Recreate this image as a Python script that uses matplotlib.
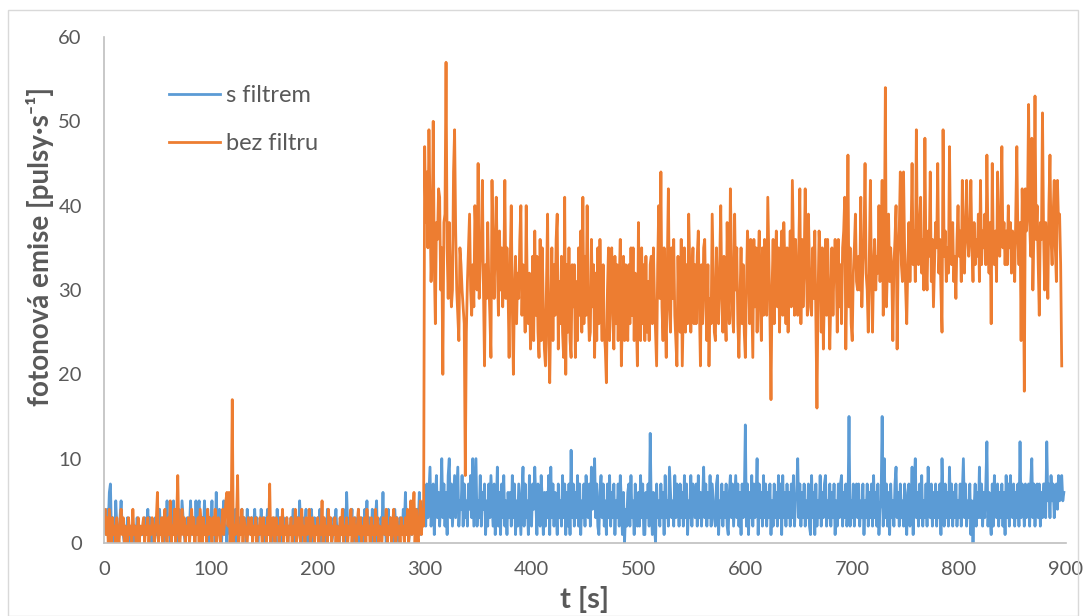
import numpy as np
import matplotlib
matplotlib.use('Agg')
import matplotlib.pyplot as plt
from matplotlib.patches import Rectangle

plt.rcParams['font.family'] = ['Lato', 'DejaVu Sans']

# pulsy za sekundu, jedna hodnota na sekundu (t = 0, 1, 2, ...)
s_filtrem = [
    3, 2, 1, 4, 2, 6, 7, 1, 3, 2, 0, 5, 2, 0, 1, 3, 5, 2, 1, 0,
    2, 1, 3, 0, 1, 2, 1, 1, 0, 2, 1, 3, 1, 0, 2, 1, 1, 2, 3, 1,
    2, 4, 1, 3, 0, 2, 1, 0, 3, 1, 2, 0, 4, 1, 2, 3, 0, 1, 2, 5,
    1, 2, 0, 3, 2, 5, 1, 3, 2, 0, 4, 2, 1, 5, 3, 1, 0, 2, 3, 1,
    2, 5, 1, 3, 2, 0, 5, 1, 4, 5, 2, 0, 3, 1, 5, 2, 1, 4, 0, 3,
    2, 5, 1, 3, 0, 6, 2, 1, 4, 2, 0, 3, 5, 1, 2, 0, 3, 4, 1, 2,
    3, 1, 2, 4, 0, 2, 1, 3, 2, 4, 1, 3, 2, 0, 4, 1, 3, 2, 3, 1,
    2, 4, 1, 3, 0, 2, 1, 4, 2, 1, 3, 0, 2, 4, 1, 3, 2, 0, 1, 3,
    2, 0, 4, 1, 3, 2, 1, 0, 3, 2, 1, 3, 0, 2, 1, 3, 2, 4, 1, 0,
    2, 3, 1, 5, 2, 0, 3, 1, 2, 4, 0, 2, 3, 1, 4, 2, 0, 3, 1, 2,
    3, 1, 4, 0, 2, 3, 1, 2, 0, 4, 1, 3, 2, 0, 1, 3, 2, 4, 1, 2,
    0, 3, 1, 2, 4, 1, 0, 6, 2, 1, 3, 2, 4, 0, 1, 3, 2, 1, 4, 0,
    2, 3, 1, 0, 4, 2, 5, 1, 3, 2, 0, 4, 1, 2, 3, 5, 0, 2, 1, 3,
    2, 6, 1, 3, 0, 2, 4, 1, 3, 2, 0, 1, 4, 2, 3, 1, 0, 3, 2, 1,
    4, 2, 6, 1, 3, 0, 2, 4, 1, 5, 2, 3, 0, 4, 2, 6, 1, 3, 2, 5,
    5, 2, 7, 3, 6, 9, 2, 4, 7, 1, 5, 8, 3, 6, 2, 5, 10, 3, 7, 2,
    6, 1, 8, 10, 3, 7, 2, 5, 8, 3, 6, 9, 2, 5, 4, 8, 2, 7, 3, 5,
    2, 7, 4, 8, 3, 10, 2, 6, 10, 2, 5, 3, 8, 2, 6, 4, 7, 1, 5, 2,
    7, 3, 8, 5, 2, 7, 1, 4, 9, 2, 6, 1, 7, 3, 8, 2, 5, 1, 6, 3,
    6, 2, 8, 3, 7, 1, 5, 2, 7, 4, 1, 6, 9, 2, 7, 3, 5, 1, 8, 3,
    2, 7, 4, 9, 5, 1, 7, 3, 2, 8, 5, 1, 6, 2, 6, 3, 8, 1, 9, 3,
    7, 2, 6, 4, 1, 7, 3, 5, 2, 8, 3, 7, 1, 6, 2, 7, 1, 11, 3, 7,
    2, 6, 3, 8, 2, 7, 1, 5, 3, 7, 2, 8, 5, 3, 7, 2, 9, 4, 6, 10,
    3, 7, 2, 1, 6, 8, 3, 7, 2, 5, 1, 7, 3, 8, 2, 6, 3, 7, 1, 5,
    3, 7, 2, 8, 5, 1, 6, 0, 4, 2, 6, 7, 2, 8, 3, 5, 1, 7, 3, 2,
    6, 2, 8, 3, 7, 1, 1, 6, 3, 7, 2, 13, 4, 1, 6, 2, 0, 7, 3, 5,
    2, 7, 3, 6, 1, 8, 3, 5, 2, 9, 6, 3, 5, 2, 8, 3, 7, 5, 2, 7,
    3, 6, 2, 8, 3, 7, 1, 5, 3, 8, 2, 7, 5, 3, 7, 2, 8, 3, 6, 2,
    5, 9, 3, 7, 2, 6, 3, 8, 2, 7, 5, 3, 2, 7, 8, 1, 5, 3, 7, 2,
    6, 3, 7, 2, 1, 6, 8, 3, 7, 2, 5, 8, 3, 7, 2, 6, 1, 7, 3, 5,
    14, 2, 7, 1, 6, 3, 8, 2, 7, 3, 5, 10, 1, 7, 3, 6, 2, 8, 3, 7,
    2, 6, 3, 7, 1, 5, 2, 7, 3, 6, 2, 8, 3, 7, 1, 8, 3, 6, 2, 7,
    3, 6, 2, 7, 3, 8, 2, 5, 6, 10, 3, 7, 2, 6, 3, 7, 2, 5, 3, 7,
    2, 1, 8, 3, 6, 1, 7, 2, 5, 3, 8, 2, 6, 3, 7, 8, 2, 5, 3, 7,
    2, 6, 3, 7, 1, 5, 2, 7, 3, 7, 8, 2, 6, 3, 7, 2, 4, 15, 2, 5,
    3, 7, 2, 6, 7, 3, 7, 2, 5, 3, 7, 1, 5, 3, 7, 2, 6, 3, 7, 2,
    8, 3, 6, 2, 7, 1, 4, 5, 15, 2, 10, 3, 7, 2, 6, 1, 7, 3, 5, 2,
    7, 9, 3, 6, 2, 7, 3, 5, 2, 7, 3, 1, 6, 7, 2, 4, 9, 1, 7, 10,
    3, 6, 2, 7, 3, 8, 2, 5, 3, 7, 2, 9, 5, 3, 7, 2, 6, 3, 7, 2,
    6, 3, 7, 1, 10, 5, 2, 7, 3, 6, 2, 9, 3, 7, 2, 6, 3, 7, 2, 5,
    3, 7, 2, 6, 10, 3, 7, 2, 5, 3, 7, 1, 5, 0, 4, 7, 2, 6, 3, 9,
    3, 7, 2, 6, 3, 7, 12, 2, 6, 3, 1, 7, 2, 8, 5, 3, 7, 2, 6, 3,
    7, 2, 6, 1, 8, 3, 7, 2, 8, 5, 3, 7, 2, 6, 3, 7, 2, 12, 3, 7,
    5, 2, 7, 3, 6, 7, 2, 7, 10, 3, 7, 2, 6, 7, 3, 7, 2, 6, 3, 7,
    7, 3, 12, 5, 7, 3, 8, 5, 7, 3, 6, 7, 4, 8, 5, 7, 8, 5, 6,
]

bez_filtru = [
    2, 4, 1, 3, 0, 4, 2, 0, 3, 1, 2, 0, 3, 1, 0, 2, 4, 1, 3, 0,
    2, 1, 0, 3, 1, 2, 0, 4, 1, 2, 0, 1, 3, 0, 2, 1, 2, 3, 0, 2,
    1, 3, 0, 2, 1, 3, 2, 0, 1, 3, 6, 0, 2, 1, 3, 0, 2, 4, 1, 0,
    3, 1, 5, 0, 2, 1, 4, 0, 3, 8, 1, 0, 2, 4, 1, 3, 0, 2, 1, 3,
    0, 2, 4, 1, 3, 0, 2, 1, 3, 0, 4, 2, 0, 3, 1, 2, 0, 4, 1, 3,
    2, 0, 3, 1, 4, 0, 2, 3, 1, 0, 2, 4, 1, 3, 5, 6, 2, 6, 0, 3,
    17, 0, 2, 1, 3, 8, 0, 2, 1, 4, 0, 3, 2, 1, 0, 3, 2, 1, 3, 0,
    2, 1, 3, 0, 2, 1, 3, 2, 0, 3, 1, 2, 0, 3, 1, 7, 0, 2, 3, 1,
    0, 3, 1, 2, 0, 3, 1, 4, 0, 2, 1, 3, 0, 2, 1, 3, 0, 2, 1, 4,
    0, 2, 3, 1, 0, 4, 1, 2, 0, 3, 1, 2, 4, 0, 1, 3, 2, 0, 2, 1,
    3, 0, 2, 1, 5, 0, 3, 1, 2, 0, 4, 1, 3, 0, 2, 1, 3, 0, 2, 1,
    0, 3, 1, 4, 0, 2, 1, 3, 0, 2, 1, 4, 0, 2, 3, 1, 0, 2, 4, 1,
    3, 0, 2, 1, 3, 0, 4, 1, 2, 0, 3, 1, 2, 0, 4, 1, 3, 0, 2, 1,
    0, 3, 2, 1, 4, 0, 2, 1, 3, 0, 2, 4, 1, 0, 3, 1, 2, 0, 3, 1,
    2, 0, 3, 1, 4, 0, 2, 5, 1, 3, 6, 0, 4, 1, 0, 3, 5, 1, 4, 2,
    47, 38, 44, 35, 49, 40, 31, 36, 50, 33, 26, 38, 36, 42, 41, 30, 35, 20, 38, 39,
    57, 35, 29, 38, 32, 28, 30, 44, 49, 37, 30, 27, 24, 35, 33, 30, 28, 26, 8, 25,
    31, 35, 39, 30, 27, 33, 28, 40, 36, 30, 45, 29, 33, 36, 43, 30, 21, 33, 29, 38,
    31, 27, 22, 43, 34, 29, 36, 41, 33, 27, 37, 30, 35, 28, 32, 43, 29, 35, 30, 22,
    33, 40, 28, 20, 30, 34, 26, 32, 29, 36, 40, 27, 33, 31, 25, 40, 30, 26, 32, 23,
    26, 34, 24, 37, 27, 34, 25, 22, 36, 24, 35, 28, 23, 21, 31, 39, 24, 19, 28, 35,
    24, 33, 27, 36, 39, 23, 31, 26, 34, 25, 22, 41, 20, 33, 25, 35, 24, 22, 33, 28,
    33, 22, 31, 24, 35, 27, 37, 25, 41, 26, 34, 27, 40, 29, 24, 25, 36, 28, 33, 22,
    32, 24, 35, 26, 36, 29, 24, 33, 25, 23, 19, 30, 35, 24, 33, 35, 27, 23, 34, 26,
    33, 24, 31, 36, 21, 27, 34, 24, 33, 28, 24, 33, 26, 35, 27, 35, 24, 32, 27, 21,
    38, 27, 24, 35, 26, 33, 24, 34, 25, 31, 24, 33, 34, 26, 35, 29, 25, 21, 33, 40,
    29, 44, 28, 24, 35, 27, 22, 33, 42, 28, 25, 35, 29, 36, 27, 24, 21, 34, 27, 25,
    36, 21, 28, 35, 25, 33, 26, 39, 33, 25, 31, 35, 26, 33, 26, 34, 37, 28, 21, 33,
    26, 35, 36, 28, 24, 33, 21, 29, 26, 39, 32, 25, 24, 35, 28, 26, 33, 40, 29, 25,
    34, 28, 24, 38, 29, 26, 42, 34, 27, 25, 39, 30, 35, 26, 22, 29, 35, 26, 33, 25,
    22, 30, 37, 34, 26, 36, 29, 22, 36, 28, 35, 25, 33, 37, 28, 24, 35, 27, 36, 29,
    27, 41, 34, 27, 17, 30, 36, 26, 33, 37, 28, 35, 25, 33, 37, 27, 38, 33, 26, 35,
    25, 32, 37, 28, 43, 35, 27, 36, 29, 27, 35, 42, 26, 36, 28, 33, 42, 33, 27, 39,
    33, 28, 27, 35, 29, 37, 26, 16, 29, 37, 34, 25, 35, 23, 30, 36, 27, 36, 30, 23,
    29, 35, 27, 33, 36, 33, 25, 36, 28, 33, 26, 35, 37, 41, 23, 32, 46, 28, 35, 26,
    24, 32, 35, 39, 31, 30, 34, 30, 41, 28, 33, 36, 45, 32, 30, 25, 34, 43, 31, 25,
    33, 36, 30, 34, 32, 40, 31, 35, 43, 27, 34, 54, 28, 33, 39, 31, 35, 32, 24, 33,
    36, 40, 23, 34, 37, 44, 33, 31, 44, 35, 30, 26, 33, 38, 31, 36, 45, 33, 37, 31,
    49, 35, 33, 38, 41, 32, 36, 30, 48, 33, 30, 37, 34, 44, 31, 36, 28, 33, 38, 35,
    45, 32, 36, 30, 25, 49, 34, 37, 31, 35, 32, 47, 35, 33, 38, 31, 34, 29, 36, 40,
    34, 37, 31, 43, 35, 32, 38, 43, 36, 34, 37, 43, 35, 31, 38, 33, 36, 34, 39, 31,
    43, 33, 37, 35, 39, 33, 46, 36, 32, 38, 26, 45, 35, 33, 37, 31, 44, 36, 34, 39,
    47, 35, 38, 33, 37, 33, 40, 35, 38, 32, 37, 36, 31, 39, 47, 36, 33, 38, 24, 42,
    35, 18, 42, 37, 40, 52, 38, 34, 48, 30, 37, 53, 36, 40, 33, 27, 38, 36, 51, 37,
    30, 38, 35, 29, 40, 46, 36, 33, 39, 43, 35, 31, 43, 38, 39, 33, 21,
]

x_ticks = [0, 100, 200, 300, 400, 500, 600, 700, 800, 900]
y_ticks = [0, 10, 20, 30, 40, 50, 60]

grey = '#595959'

fig = plt.figure(figsize=(10.86, 6.16), dpi=100)
ax = fig.add_axes([104 / 1086, 73 / 616, 962 / 1086, 506 / 616])

ax.plot(np.arange(len(s_filtrem)), s_filtrem, color='#5B9BD5', lw=2.0, label='s filtrem')
ax.plot(np.arange(len(bez_filtru)), bez_filtru, color='#ED7D31', lw=2.0, label='bez filtru')

ax.set_xlim(0, 900)
ax.set_ylim(0, 60)
ax.set_xticks(x_ticks)
ax.set_yticks(y_ticks)
ax.tick_params(length=0, labelsize=14.5, labelcolor=grey)
ax.tick_params(axis='x', pad=13)
ax.tick_params(axis='y', pad=16)

for side in ['top', 'right']:
    ax.spines[side].set_visible(False)
for side in ['left', 'bottom']:
    ax.spines[side].set_color('#bfbfbf')
    ax.spines[side].set_linewidth(1.2)

ax.set_xlabel('t [s]', fontsize=21, fontweight='bold', color=grey)
ax.xaxis.set_label_coords(0.5, -0.085)
ax.set_ylabel('fotonová emise [pulsy·s⁻¹]', fontsize=20, fontweight='bold', color=grey)
ax.yaxis.set_label_coords(-0.052, 0.585)

leg = ax.legend(loc='upper left', bbox_to_anchor=(0.045, 0.947), frameon=False,
                fontsize=17, handlelength=2.2, labelspacing=1.15, handletextpad=0.25)
for txt in leg.get_texts():
    txt.set_color(grey)

fig.patches.append(Rectangle((8 / 1086, 0), 1070 / 1086, 606 / 616, transform=fig.transFigure,
                             fill=False, edgecolor='#d9d9d9', lw=1.0))

fig.savefig('out.png', dpi=100)
